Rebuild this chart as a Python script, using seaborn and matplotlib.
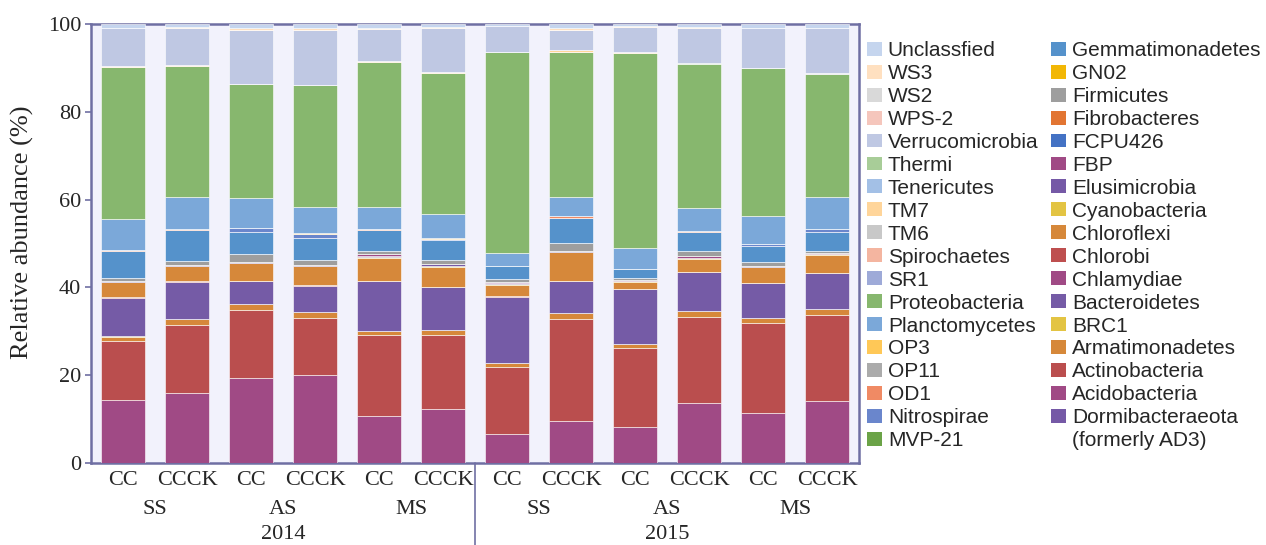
import matplotlib
matplotlib.use("Agg")
import matplotlib.pyplot as plt
import matplotlib.transforms as mtransforms
from matplotlib.patches import Patch
import numpy as np
import pandas as pd
import seaborn as sns

# ---- samples (two years x three sites x two treatments) ----
years = ["2014", "2015"]
sites = ["SS", "AS", "MS"]
treatments = ["CC", "CCCK", "CC", "CCCK", "CC", "CCCK",
              "CC", "CCCK", "CC", "CCCK", "CC", "CCCK"]
sample_ids = ["2014-SS-CC", "2014-SS-CCCK", "2014-AS-CC", "2014-AS-CCCK",
              "2014-MS-CC", "2014-MS-CCCK", "2015-SS-CC", "2015-SS-CCCK",
              "2015-AS-CC", "2015-AS-CCCK", "2015-MS-CC", "2015-MS-CCCK"]

# ---- relative abundance (%) of each phylum, stacked bottom -> top ----
dormibacteraeota = [0.1, 0.1, 0.1, 0.1, 0.1, 0.1, 0.1, 0.1, 0.1, 0.1, 0.1, 0.1]
acidobacteria = [14.3, 15.8, 19.3, 19.9, 10.6, 12.2, 6.5, 9.5, 8.2, 13.5, 11.2, 14.0]
actinobacteria = [13.4, 15.5, 15.4, 13.0, 18.5, 16.9, 15.3, 23.2, 18.0, 19.7, 20.7, 19.6]
armatimonadetes = [0.9, 1.4, 1.4, 1.5, 0.9, 1.1, 0.8, 1.3, 0.8, 1.3, 1.0, 1.4]
brc1 = [0.2, 0, 0, 0, 0, 0, 0, 0, 0, 0, 0.1, 0]
bacteroidetes = [8.7, 8.4, 5.3, 5.9, 11.4, 9.9, 15.2, 7.4, 12.6, 8.8, 8.0, 8.2]
chlamydiae = [0, 0, 0, 0, 0, 0, 0, 0, 0, 0, 0, 0]
chlorobi = [0.1, 0.2, 0, 0.2, 0, 0, 0.2, 0, 0, 0, 0, 0]
chloroflexi = [3.5, 3.5, 4.1, 4.3, 5.3, 4.5, 2.4, 6.6, 1.5, 3.0, 3.5, 4.0]
cyanobacteria = [0.1, 0, 0, 0, 0.2, 0.2, 0.2, 0, 0.2, 0.2, 0, 0.2]
elusimicrobia = [0.1, 0.2, 0.2, 0.2, 0.2, 0.4, 0.2, 0.3, 0, 0, 0.3, 0]
fbp = [0, 0, 0, 0, 0.3, 0, 0.3, 0, 0.3, 0.5, 0, 0.3]
fcpu426 = [0, 0, 0, 0, 0, 0, 0, 0, 0, 0, 0, 0]
fibrobacteres = [0.1, 0, 0, 0, 0, 0, 0, 0, 0, 0, 0, 0]
firmicutes = [0.7, 0.9, 1.9, 1.1, 0.7, 1.0, 0.6, 1.7, 0.5, 1.1, 0.8, 0.6]
gn02 = [0, 0, 0, 0, 0, 0, 0, 0, 0, 0, 0, 0]
gemmatimonadetes = [6.0, 7.1, 5.0, 5.0, 4.9, 4.4, 3.1, 5.8, 2.1, 4.5, 3.8, 4.3]
mvp21 = [0, 0, 0, 0, 0, 0, 0, 0, 0, 0, 0, 0]
nitrospirae = [0.1, 0, 0.9, 0.9, 0, 0.3, 0, 0, 0, 0, 0.3, 0.5]
od1 = [0.2, 0.2, 0, 0, 0.3, 0, 0, 0.3, 0, 0.2, 0, 0]
op11 = [0, 0, 0, 0, 0, 0, 0, 0, 0, 0, 0, 0]
op3 = [0, 0, 0, 0.2, 0, 0.2, 0, 0, 0, 0, 0, 0]
planctomycetes = [7.0, 7.2, 6.7, 6.0, 4.9, 5.5, 3.0, 4.5, 4.6, 5.1, 6.5, 7.4]
proteobacteria = [34.8, 29.9, 26.0, 27.7, 33.0, 32.2, 45.7, 33.0, 44.6, 33.0, 33.7, 28.0]
sr1 = [0, 0, 0, 0, 0, 0, 0, 0, 0, 0, 0, 0]
spirochaetes = [0, 0, 0, 0, 0, 0, 0, 0, 0, 0, 0, 0]
tm6 = [0, 0, 0, 0, 0, 0, 0, 0, 0, 0, 0, 0.2]
tm7 = [0.1, 0.3, 0.1, 0.1, 0.2, 0.2, 0.1, 0.3, 0.1, 0, 0, 0]
tenericutes = [0, 0, 0, 0, 0, 0, 0, 0, 0, 0, 0, 0]
thermi = [0, 0, 0, 0, 0, 0, 0, 0, 0, 0.2, 0, 0]
verrucomicrobia = [8.6, 8.5, 12.3, 12.6, 7.3, 9.9, 5.8, 4.6, 5.8, 7.9, 9.2, 10.4]
wps2 = [0, 0, 0, 0, 0, 0, 0, 0, 0, 0, 0, 0]
ws2 = [0, 0, 0, 0, 0, 0, 0, 0, 0, 0, 0, 0]
ws3 = [0.2, 0.1, 0.5, 0.5, 0.2, 0.3, 0, 0.4, 0.1, 0.2, 0, 0]
unclassified = [0.8, 0.7, 0.8, 0.8, 1.0, 0.7, 0.5, 1.0, 0.5, 0.7, 0.8, 0.8]

# (label, values, colour) in stacking order
phyla = [
    ("Dormibacteraeota", dormibacteraeota, "#7559A6"),
    ("Acidobacteria", acidobacteria, "#A04A85"),
    ("Actinobacteria", actinobacteria, "#BA4E4E"),
    ("Armatimonadetes", armatimonadetes, "#D6883A"),
    ("BRC1", brc1, "#E3C443"),
    ("Bacteroidetes", bacteroidetes, "#755BA6"),
    ("Chlamydiae", chlamydiae, "#A04A85"),
    ("Chlorobi", chlorobi, "#BE4F4F"),
    ("Chloroflexi", chloroflexi, "#D6883A"),
    ("Cyanobacteria", cyanobacteria, "#E3C443"),
    ("Elusimicrobia", elusimicrobia, "#7559A6"),
    ("FBP", fbp, "#A04A85"),
    ("FCPU426", fcpu426, "#4472C4"),
    ("Fibrobacteres", fibrobacteres, "#E27532"),
    ("Firmicutes", firmicutes, "#9E9E9E"),
    ("GN02", gn02, "#F2B705"),
    ("Gemmatimonadetes", gemmatimonadetes, "#5592CB"),
    ("MVP-21", mvp21, "#6BA347"),
    ("Nitrospirae", nitrospirae, "#6A86CC"),
    ("OD1", od1, "#F08A64"),
    ("OP11", op11, "#ABABAB"),
    ("OP3", op3, "#FFC857"),
    ("Planctomycetes", planctomycetes, "#7BA8D9"),
    ("Proteobacteria", proteobacteria, "#87B76E"),
    ("SR1", sr1, "#9EAAD8"),
    ("Spirochaetes", spirochaetes, "#F4B5A0"),
    ("TM6", tm6, "#C8C8C8"),
    ("TM7", tm7, "#FFD59A"),
    ("Tenericutes", tenericutes, "#A3C0E6"),
    ("Thermi", thermi, "#A8CD98"),
    ("Verrucomicrobia", verrucomicrobia, "#BFC8E3"),
    ("WPS-2", wps2, "#F5C6BC"),
    ("WS2", ws2, "#D9D9D9"),
    ("WS3", ws3, "#FFE0C0"),
    ("Unclassfied", unclassified, "#C5D5EE"),
]

sns.set_theme(style="white")
serif = ["Liberation Serif", "DejaVu Serif"]
sans = ["Liberation Sans", "DejaVu Sans"]
frame_col = "#6F6FA3"

df = pd.DataFrame({"sample": sample_ids})
for name, vals, _ in phyla:
    df[name] = vals

fig = plt.figure(figsize=(12.66, 5.45), dpi=100)
ax = fig.add_axes([91 / 1266, 1 - 463 / 545, 768 / 1266, 439 / 545])
ax.set_facecolor("#F2F2FC")

bottom = np.zeros(len(sample_ids))
for name, vals, col in phyla:
    sns.barplot(data=df, x="sample", y=name, order=sample_ids, bottom=bottom,
                color=col, saturation=1, width=0.7, errorbar=None,
                edgecolor="white", linewidth=0.4, zorder=3, ax=ax)
    bottom = bottom + np.asarray(vals, dtype=float)

ax.set_xlim(-0.5, len(sample_ids) - 0.5)
ax.set_ylim(0, 100)
ax.set_xlabel("")
ax.set_ylabel("")

for side in ["left", "right", "top", "bottom"]:
    ax.spines[side].set_color(frame_col)
    ax.spines[side].set_linewidth(1.8)
    ax.spines[side].set_zorder(2)

ax.set_yticks([0, 20, 40, 60, 80, 100])
ax.set_yticklabels(["0", "20", "40", "60", "80", "100"], family=serif, fontsize=16)
ax.tick_params(axis="y", length=4, width=1.2, color=frame_col, pad=3, left=True)
ax.set_xticks(range(len(sample_ids)))
ax.set_xticklabels(treatments, family=serif, fontsize=16)
ax.tick_params(axis="x", length=0, pad=6)

trans = mtransforms.blended_transform_factory(ax.transData, ax.transAxes)
for gi, site in enumerate(sites * 2):
    ax.text(2 * gi + 0.5, -0.105, site, transform=trans, ha="center", va="center",
            family=serif, fontsize=16)
for yi, yr in enumerate(years):
    ax.text(6 * yi + 2.5, -0.164, yr, transform=trans, ha="center", va="center",
            family=serif, fontsize=16)
ax.plot([5.5, 5.5], [0, -0.19], transform=trans, color=frame_col, lw=1.2,
        clip_on=False)

fig.text(22 / 1266, 1 - 232 / 545, "Relative abundance (%)", rotation=90,
         ha="center", va="center", family=serif, fontsize=19)

handles = [Patch(facecolor=c, edgecolor="none") for _, _, c in phyla[::-1]]
labels = [n for n, _, _ in phyla[::-1]]
leg = fig.legend(handles, labels, loc="upper left",
                 bbox_to_anchor=(867 / 1266, 1 - 41 / 545),
                 ncol=2, frameon=False, prop={"family": sans, "size": 15},
                 handlelength=0.7, handleheight=0.65, handletextpad=0.3,
                 columnspacing=0.6, labelspacing=0.19, borderpad=0, borderaxespad=0)

# second line of the last legend entry, one row below its first line
fig.canvas.draw()
last = [t for t in leg.get_texts() if t.get_text() == "Dormibacteraeota"][0]
first = leg.get_texts()[0]
second = leg.get_texts()[1]
bb = last.get_window_extent()
row = first.get_window_extent().y0 - second.get_window_extent().y0
fig.text(bb.x0 / fig.bbox.width, (bb.y0 - row) / fig.bbox.height, "(formerly AD3)",
         ha="left", va="bottom", family=sans, fontsize=15)

fig.savefig("out.png", dpi=100)
